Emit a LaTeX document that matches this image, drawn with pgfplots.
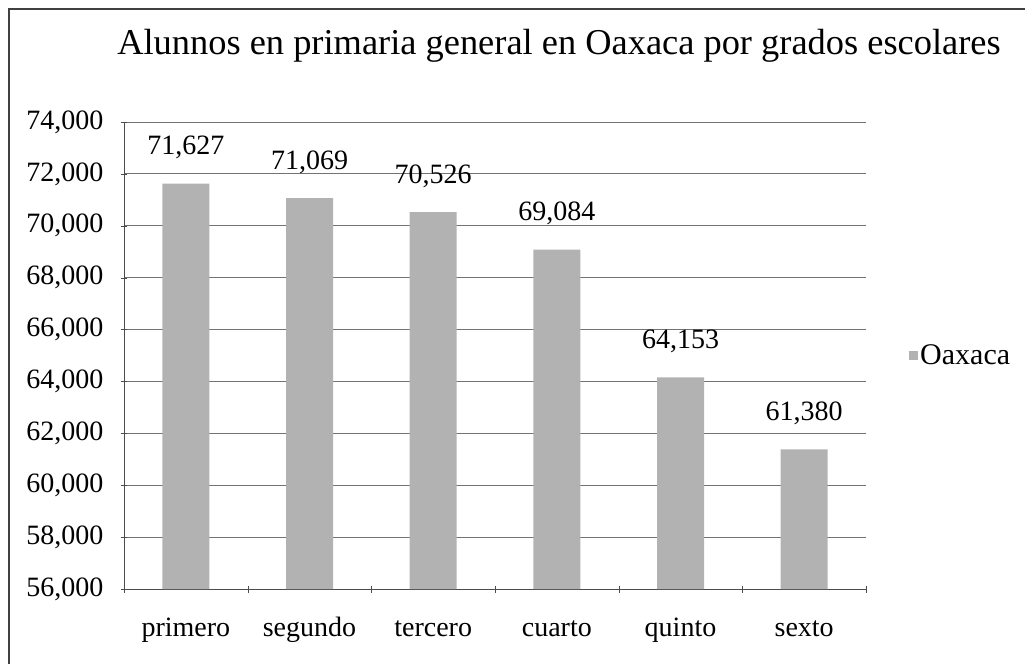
\documentclass[border=0pt]{standalone}
\usepackage{pgfplots}
\pgfplotsset{compat=1.18}
\usepackage{fontspec}
\setmainfont{Liberation Serif}
\begin{document}
\begin{tikzpicture}[x=1pt,y=1pt]
\path[use as bounding box] (0pt,0pt) rectangle (1030pt,664pt);
\draw[black!75, line width=1.5pt] (9pt,0pt) -- (9pt,655pt) -- (1025pt,655pt);
\node[font=\fontsize{36.4}{40}\selectfont] at (559pt,618pt) {Alunnos en primaria general en Oaxaca por grados escolares};
\begin{axis}[
  at={(124pt,75pt)}, anchor=south west,
  scale only axis, width=742pt, height=467pt,
  ybar, bar width=47pt,
  xmin=-0.5, xmax=5.5,
  ymin=56000, ymax=74000,
  scaled y ticks=false,
  ytick={56000,58000,...,74000},
  xtick={0,1,2,3,4,5},
  xticklabels={primero,segundo,tercero,cuarto,quinto,sexto},
  minor xtick={-0.5,0.5,1.5,2.5,3.5,4.5,5.5},
  major x tick style={draw=none},
  minor x tick style={black!70},
  tick align=outside,
  major tick length=6pt, minor tick length=7pt,
  axis x line=bottom, axis y line=left,
  axis line style={-, black!70, line width=0.8pt},
  ymajorgrids, grid style={black!55, line width=0.8pt},
  ytick style={black!70},
  /pgf/number format/.cd, 1000 sep={,}, assume math mode=true,
  /pgfplots/.cd,
  ticklabel style={font=\fontsize{28}{32}\selectfont},
  xticklabel style={yshift=-34pt, text height=0.7em, text depth=0.25em},
  yticklabel style={xshift=-14pt},
  nodes near coords,
  nodes near coords style={font=\fontsize{28}{32}\selectfont, yshift=21pt, black, /pgf/number format/1000 sep={,}},
  legend entries={Oaxaca},
  legend style={at={(1,0.5)}, anchor=west, draw=none, fill=none, xshift=40pt, font=\fontsize{30}{34}\selectfont},
  legend image code/.code={\fill[black!30] (0pt,-4.5pt) rectangle (9pt,4.5pt);},
]
\addplot[draw=none, fill=black!30] coordinates {(0,71627) (1,71069) (2,70526) (3,69084) (4,64153) (5,61380)};
\end{axis}
\end{tikzpicture}
\end{document}
